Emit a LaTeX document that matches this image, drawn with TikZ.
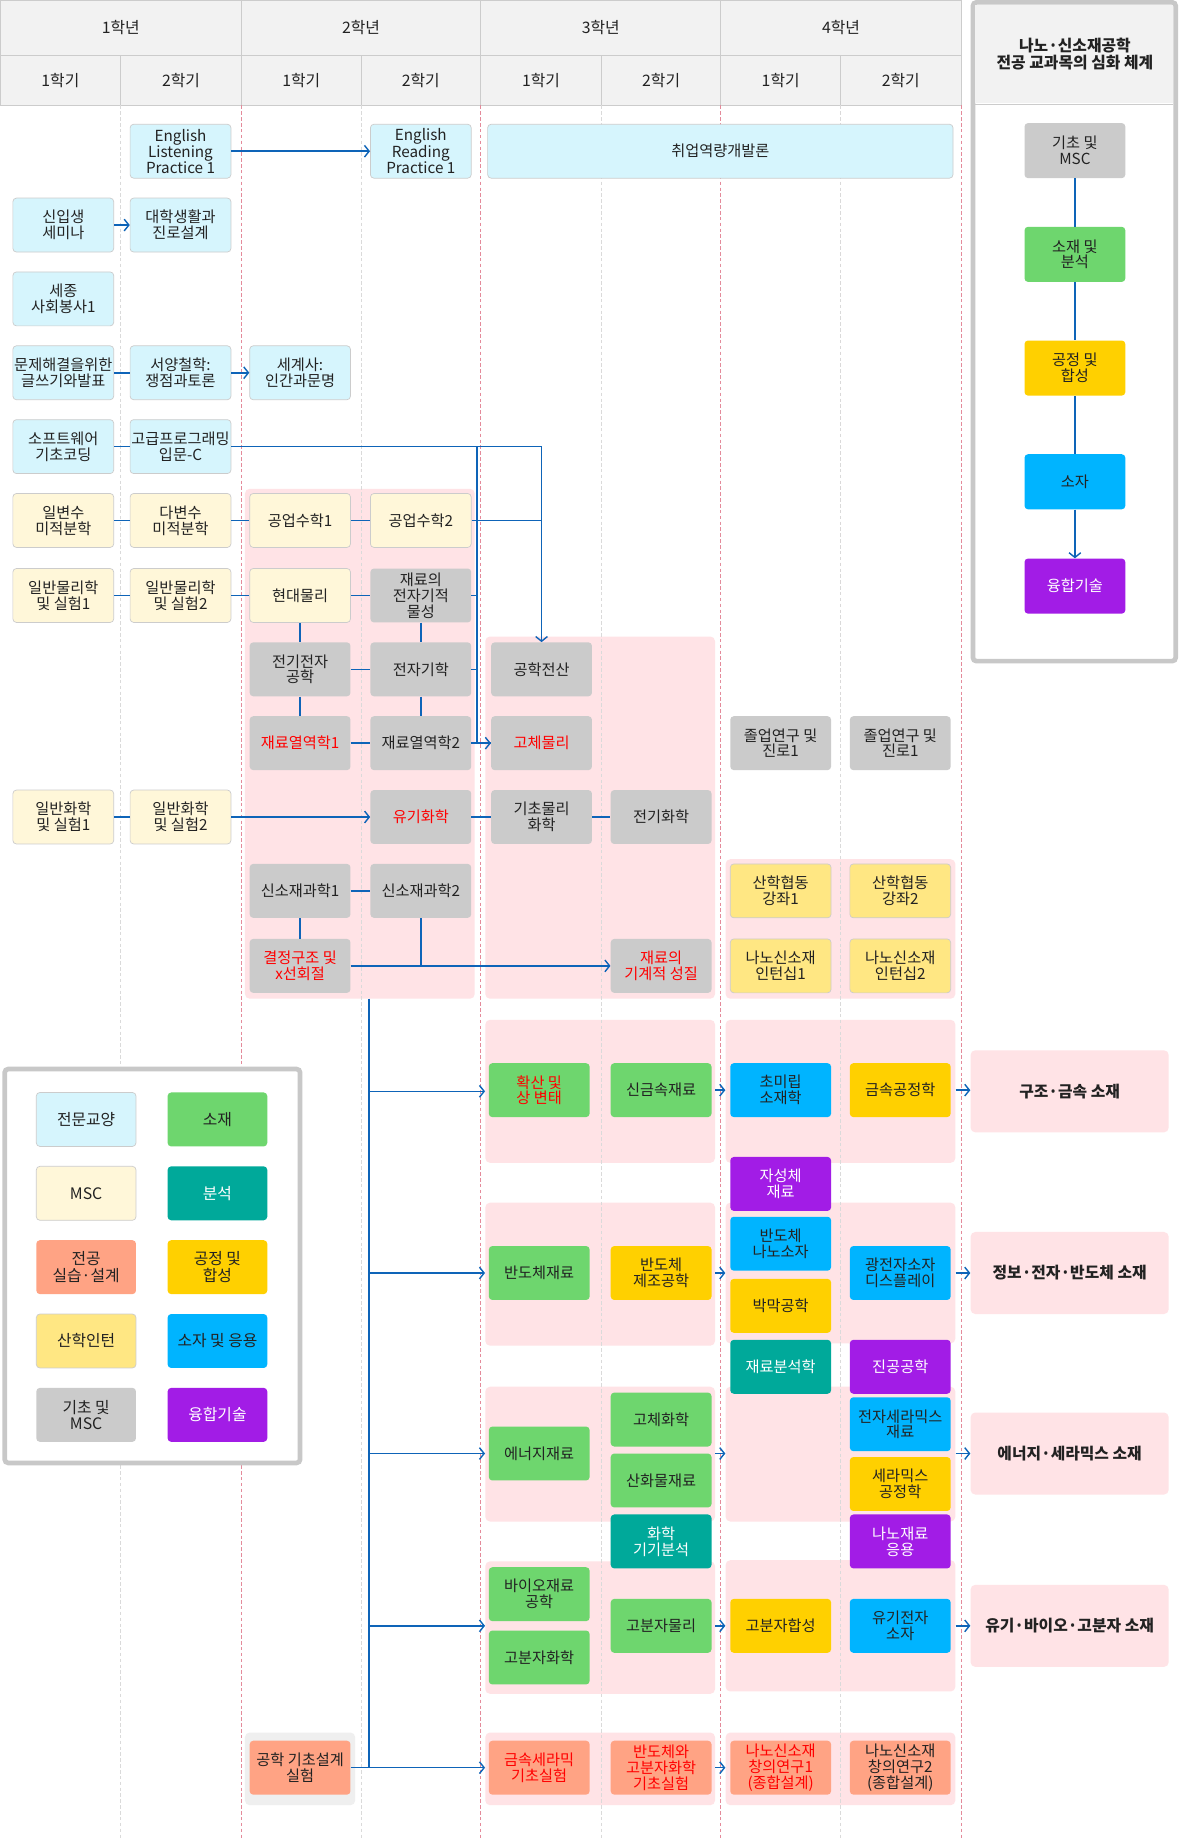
\documentclass[tikz,border=0pt]{standalone}
\usepackage{fontspec}
\setmainfont{Noto Sans CJK KR}
\usetikzlibrary{arrows.meta,calc}
\definecolor{cgen}{HTML}{D6F5FD}
\definecolor{cmsc}{HTML}{FFF7D9}
\definecolor{cgry}{HTML}{CBCBCB}
\definecolor{cgrn}{HTML}{6ED66E}
\definecolor{ctea}{HTML}{00A99A}
\definecolor{cyel}{HTML}{FFD000}
\definecolor{ccya}{HTML}{00B4FF}
\definecolor{cpur}{HTML}{A21CE6}
\definecolor{csal}{HTML}{FFA384}
\definecolor{citn}{HTML}{FFE783}
\definecolor{cpink}{HTML}{FFE3E6}
\definecolor{cblue}{HTML}{0E64B8}
\definecolor{cbord}{HTML}{CCCCCC}
\definecolor{chead}{HTML}{F2F2F2}
\definecolor{cred}{HTML}{FF0000}
\definecolor{cdashr}{HTML}{E48A9A}
\definecolor{cdashg}{HTML}{DADADA}
\definecolor{ctxt}{HTML}{222222}
\definecolor{cpanel}{HTML}{C8C8C8}
\definecolor{cgbg}{HTML}{EFEFEF}
\newcommand\myfs{\fontsize{13}{13.5}\selectfont}
\newcommand\myfh{\fontsize{13.5}{15}\selectfont}
\newcommand\myfd{\fontsize{13.5}{16}\selectfont\bfseries}
\begin{document}
\begin{tikzpicture}[x=1pt,y=-1pt,
 box/.style={rounded corners=3pt, minimum width=86pt, minimum height=46pt, inner sep=0.5pt, align=center, font=\myfs, text=ctxt},
 kgen/.style={box, fill=cgen, draw=cbord, line width=0.6pt},
 kmsc/.style={box, fill=cmsc, draw=cbord, line width=0.6pt},
 kitn/.style={box, fill=citn, draw=cbord, line width=0.6pt},
 kgry/.style={box, fill=cgry},
 kgrn/.style={box, fill=cgrn},
 ktea/.style={box, fill=ctea, text=white},
 kyel/.style={box, fill=cyel},
 kcya/.style={box, fill=ccya},
 kpur/.style={box, fill=cpur, text=white},
 ksal/.style={box, fill=csal},
 rtx/.style={text=cred},
 preg/.style={fill=cpink, rounded corners=4pt, inner sep=0pt, minimum width=196pt},
 dest/.style={fill=cpink, rounded corners=4pt, inner sep=0pt, minimum width=169pt, minimum height=70pt, font=\myfd, text=ctxt},
 lnk/.style={draw=cblue, line width=1.3pt},
 arr/.style={lnk, -{Straight Barb[length=4pt,width=10pt,line width=1.2pt]}},
 hd/.style={fill=chead, draw=cbord, line width=0.8pt},
 lgd/.style={box, minimum width=85pt, font=\fontsize{13.5}{14}\selectfont}
]
\useasboundingbox (0,0) rectangle (1007,1568);
\fill[white] (0,0) rectangle (1007,1568);

% header
\foreach \a/\b/\t in {0/206/1학년, 206/410/2학년, 410/615/3학년, 615/820/4학년}{
  \draw[hd] (\a,0) rectangle (\b,47);
  \node[font=\myfh, text=ctxt] at ({(\a+\b)/2},23.5) {\t};}
\foreach \a/\b/\t in {0/103/1학기, 103/206/2학기, 206/308/1학기, 308/410/2학기, 410/513/1학기, 513/615/2학기, 615/717/1학기, 717/820/2학기}{
  \draw[hd] (\a,47) rectangle (\b,90);
  \node[font=\myfh, text=ctxt] at ({(\a+\b)/2},68.5) {\t};}

% pink regions
\node[preg, minimum height=435pt] (pA) at (307,634.5) {};
\node[preg, minimum height=309pt] (pB) at (512,697.5) {};
\node[preg, minimum height=119pt] (pC) at (717,792.5) {};
\node[preg, minimum height=122pt] (g1a) at (512,931) {};
\node[preg, minimum height=122pt] (g1b) at (717,931) {};
\node[preg, minimum height=122pt] (g2a) at (512,1087) {};
\node[preg, minimum height=120pt] (g2b) at (717,1086) {};
\node[preg, minimum height=115pt] (g3a) at (512,1240.5) {};
\node[preg, minimum height=115pt] (g3b) at (717,1240.5) {};
\node[preg, minimum height=113pt] (g4a) at (512,1388.5) {};
\node[preg, minimum height=112pt] (g4b) at (717,1387) {};
\node[preg, minimum height=62pt] (g5a) at (512,1509) {};
\node[preg, minimum height=62pt] (g5b) at (717,1509) {};
\node[fill=cgbg, rounded corners=4pt, minimum width=94pt, minimum height=62pt, inner sep=0pt] (g5z) at (256,1509) {};

% dashed column lines
\foreach \x in {103,308,513,717}{\draw[cdashg, line width=0.7pt, dash pattern=on 3pt off 2pt] (\x,90) -- (\x,1568);}
\foreach \x in {206,410,615,820}{\draw[cdashr, line width=0.7pt, dash pattern=on 3pt off 2pt] (\x,90) -- (\x,1568);}

% right panel
\draw[line width=4pt, cpanel, fill=white, rounded corners=3pt] (830,2) rectangle (1003,564);
\fill[chead] (832,4) rectangle (1001,88);
\draw[cbord, line width=0.8pt] (832,89) -- (1001,89);
\node[font=\fontsize{13.5}{14.5}\selectfont\bfseries, text=ctxt, align=center] (ptitle) at (917,46) {나노·신소재공학\\전공 교과목의 심화 체계};
\node[kgry, minimum height=47pt] (r1) at (917,128.5) {기초 및\\MSC};
\node[kgrn, minimum height=47pt] (r2) at (917,217) {소재 및\\분석};
\node[kyel, minimum height=47pt] (r3) at (917,314) {공정 및\\합성};
\node[kcya, minimum height=47pt] (r4) at (917,411) {소자};
\node[kpur, minimum height=47pt] (r5) at (917,500) {융합기술};
\draw[lnk] (r1.south) -- (r2.north);
\draw[lnk] (r2.south) -- (r3.north);
\draw[lnk] (r3.south) -- (r4.north);
\draw[arr] (r4.south) -- (r5.north);

% legend
\draw[line width=4pt, cpanel, fill=white, rounded corners=3pt] (4,912) rectangle (256,1248);
\node[lgd, fill=cgen, draw=cbord, line width=0.6pt] (l1) at (73.5,955) {전문교양};
\node[lgd, fill=cgrn] (l2) at (185.5,955) {소재};
\node[lgd, fill=cmsc, draw=cbord, line width=0.6pt] (l3) at (73.5,1018) {MSC};
\node[lgd, fill=ctea, text=white] (l4) at (185.5,1018) {분석};
\node[lgd, fill=csal] (l5) at (73.5,1081) {전공\\실습·설계};
\node[lgd, fill=cyel] (l6) at (185.5,1081) {공정 및\\합성};
\node[lgd, fill=citn, draw=cbord, line width=0.6pt] (l7) at (73.5,1144) {산학인턴};
\node[lgd, fill=ccya] (l8) at (185.5,1144) {소자 및 응용};
\node[lgd, fill=cgry] (l9) at (73.5,1207) {기초 및\\MSC};
\node[lgd, fill=cpur, text=white] (l10) at (185.5,1207) {융합기술};

% top courses
\node[kgen] (engL) at (154,129) {English\\Listening\\Practice 1};
\node[kgen] (engR) at (359,129) {English\\Reading\\Practice 1};
\node[kgen, minimum width=397pt] (job) at (614.5,129) {취업역량개발론};
\node[kgen] (fresh) at (54,192) {신입생\\세미나};
\node[kgen] (life) at (154,192) {대학생활과\\진로설계};
\node[kgen] (vol) at (54,255) {세종\\사회봉사1};
\node[kgen] (write) at (54,318) {문제해결을위한\\글쓰기와발표};
\node[kgen] (phil) at (154,318) {서양철학:\\쟁점과토론};
\node[kgen] (hist) at (256,318) {세계사:\\인간과문명};
\node[kgen] (sw) at (54,381) {소프트웨어\\기초코딩};
\node[kgen] (prog) at (154,381) {고급프로그래밍\\입문-C};

\node[kmsc] (calc1) at (54,444) {일변수\\미적분학};
\node[kmsc] (calc2) at (154,444) {다변수\\미적분학};
\node[kmsc] (em1) at (256,444) {공업수학1};
\node[kmsc] (em2) at (359,444) {공업수학2};
\node[kmsc] (phy1) at (54,508) {일반물리학\\및 실험1};
\node[kmsc] (phy2) at (154,508) {일반물리학\\및 실험2};
\node[kmsc] (modp) at (256,508) {현대물리};
\node[kgry] (emp) at (359,508) {재료의\\전자기적\\물성};
\node[kgry] (ee) at (256,571) {전기전자\\공학};
\node[kgry] (elm) at (359,571) {전자기학};
\node[kgry] (cad) at (462,571) {공학전산};
\node[kgry, rtx] (th1) at (256,634) {재료열역학1};
\node[kgry] (th2) at (359,634) {재료열역학2};
\node[kgry, rtx] (ssp) at (462,634) {고체물리};
\node[kgry] (grad1) at (666,634) {졸업연구 및\\진로1};
\node[kgry] (grad2) at (768,634) {졸업연구 및\\진로1};
\node[kmsc] (ch1) at (54,697) {일반화학\\및 실험1};
\node[kmsc] (ch2) at (154,697) {일반화학\\및 실험2};
\node[kgry, rtx] (org) at (359,697) {유기화학};
\node[kgry] (pchem) at (462,697) {기초물리\\화학};
\node[kgry] (echem) at (564,697) {전기화학};
\node[kgry] (ms1) at (256,760) {신소재과학1};
\node[kgry] (ms2) at (359,760) {신소재과학2};
\node[kitn] (ind1) at (666,760) {산학협동\\강좌1};
\node[kitn] (ind2) at (768,760) {산학협동\\강좌2};
\node[kgry, rtx] (xrd) at (256,824) {결정구조 및\\x선회절};
\node[kgry, rtx] (mech) at (564,824) {재료의\\기계적 성질};
\node[kitn] (int1) at (666,824) {나노신소재\\인턴십1};
\node[kitn] (int2) at (768,824) {나노신소재\\인턴십2};

% bottom tracks
\node[kgrn, rtx] (diff) at (460,930) {확산 및\\상 변태};
\node[kgrn] (newm) at (564,930) {신금속재료};
\node[kcya] (ultra) at (666,930) {초미립\\소재학};
\node[kyel] (mproc) at (768,930) {금속공정학};
\node[dest] (dest1) at (912.5,931) {구조·금속 소재};
\node[kpur] (mag) at (666,1010) {자성체\\재료};
\node[kgrn] (semi) at (460,1086) {반도체재료};
\node[kyel] (fab) at (564,1086) {반도체\\제조공학};
\node[kcya] (snano) at (666,1061) {반도체\\나노소자};
\node[kyel] (thin) at (666,1114) {박막공학};
\node[kcya] (opto) at (768,1086) {광전자소자\\디스플레이};
\node[dest] (dest2) at (912.5,1086) {정보·전자·반도체 소재};
\node[ktea] (anal) at (666,1166) {재료분석학};
\node[kpur] (vac) at (768,1166) {진공공학};
\node[kgrn] (ener) at (460,1240) {에너지재료};
\node[kgrn] (solch) at (564,1211) {고체화학};
\node[kgrn] (oxide) at (564,1263) {산화물재료};
\node[kcya] (ecer) at (768,1215) {전자세라믹스\\재료};
\node[kyel] (cerp) at (768,1266) {세라믹스\\공정학};
\node[dest] (dest3) at (912.5,1240) {에너지·세라믹스 소재};
\node[ktea] (chinst) at (564,1315) {화학\\기기분석};
\node[kpur] (napp) at (768,1315) {나노재료\\응용};
\node[kgrn] (bio) at (460,1360) {바이오재료\\공학};
\node[kgrn] (polyc) at (460,1414) {고분자화학};
\node[kgrn] (polyp) at (564,1387) {고분자물리};
\node[kyel] (polys) at (666,1387) {고분자합성};
\node[kcya] (oled) at (768,1387) {유기전자\\소자};
\node[dest] (dest4) at (912.5,1387) {유기·바이오·고분자 소재};
\node[ksal] (design) at (256,1508) {공학 기초설계\\실험};
\node[ksal, rtx] (lab1) at (460,1508) {금속세라믹\\기초실험};
\node[ksal, rtx] (lab2) at (564,1508) {반도체와\\고분자화학\\기초실험};
\node[ksal, rtx] (cre1) at (666,1508) {나노신소재\\창의연구1\\(종합설계)};
\node[ksal] (cre2) at (768,1508) {나노신소재\\창의연구2\\(종합설계)};

% connectors (top)
\draw[arr] (engL.east) -- (engR.west);
\draw[arr] (fresh.east) -- (life.west);
\draw[lnk] (write.east) -- (phil.west);
\draw[arr] (phil.east) -- (hist.west);
\draw[lnk] (sw.east) -- (prog.west);
\coordinate (j1) at (407,381);
\draw[arr] (prog.east) -| (cad.north);
\draw[arr] (j1) |- (ssp.west);
\draw[lnk] (em2.east) -- (em2.east -| cad.north);
\draw[lnk] (emp.east) -- (emp.east -| j1);
\draw[lnk] (elm.east) -- (elm.east -| j1);
\draw[lnk] (th2.east) -- (ssp.west);
\draw[lnk] (calc1.east) -- (calc2.west);
\draw[lnk] (calc2.east) -- (em1.west);
\draw[lnk] (em1.east) -- (em2.west);
\draw[lnk] (phy1.east) -- (phy2.west);
\draw[lnk] (phy2.east) -- (modp.west);
\draw[lnk] (modp.east) -- (emp.west);
\draw[lnk] (modp.south) -- (ee.north);
\draw[lnk] (emp.south) -- (elm.north);
\draw[lnk] (ee.east) -- (elm.west);
\draw[lnk] (ee.south) -- (th1.north);
\draw[lnk] (elm.south) -- (th2.north);
\draw[lnk] (th1.east) -- (th2.west);
\draw[lnk] (ch1.east) -- (ch2.west);
\draw[arr] (ch2.east) -- (org.west);
\draw[lnk] (org.east) -- (pchem.west);
\draw[lnk] (pchem.east) -- (echem.west);
\draw[lnk] (ms1.east) -- (ms2.west);
\draw[lnk] (ms1.south) -- (xrd.north);
\draw[lnk] (ms2.south) -- (ms2.south |- xrd.east);
\draw[arr] (xrd.east) -- (mech.west);

% trunk
\coordinate (trunk) at (315,852);
\draw[lnk] (trunk) -- (trunk |- design.east);
\draw[arr] (trunk |- g1a.west) -- (g1a.west);
\draw[arr] (trunk |- semi.west) -- (semi.west -| g2a.west);
\draw[arr] (trunk |- ener.west) -- (ener.west -| g3a.west);
\draw[arr] (trunk |- polyp.west) -- (polyp.west -| g4a.west);
\draw[arr] (design.east) -- (design.east -| g5a.west);

% track arrows
\draw[arr] (newm.east -| g1a.east) -- (newm.east -| g1b.west);
\draw[arr] (mproc.east -| g1b.east) -- (mproc.east -| dest1.west);
\draw[arr] (fab.east -| g2a.east) -- (fab.east -| g2b.west);
\draw[arr] (opto.east -| g2b.east) -- (opto.east -| dest2.west);
\draw[arr] (ener.east -| g3a.east) -- (ener.east -| g3b.west);
\draw[arr] (dest3.west -| g3b.east) -- (dest3.west);
\draw[arr] (polyp.east -| g4a.east) -- (polyp.east -| g4b.west);
\draw[arr] (oled.east -| g4b.east) -- (oled.east -| dest4.west);
\draw[arr] (lab2.east -| g5a.east) -- (lab2.east -| g5b.west);
\end{tikzpicture}
\end{document}
